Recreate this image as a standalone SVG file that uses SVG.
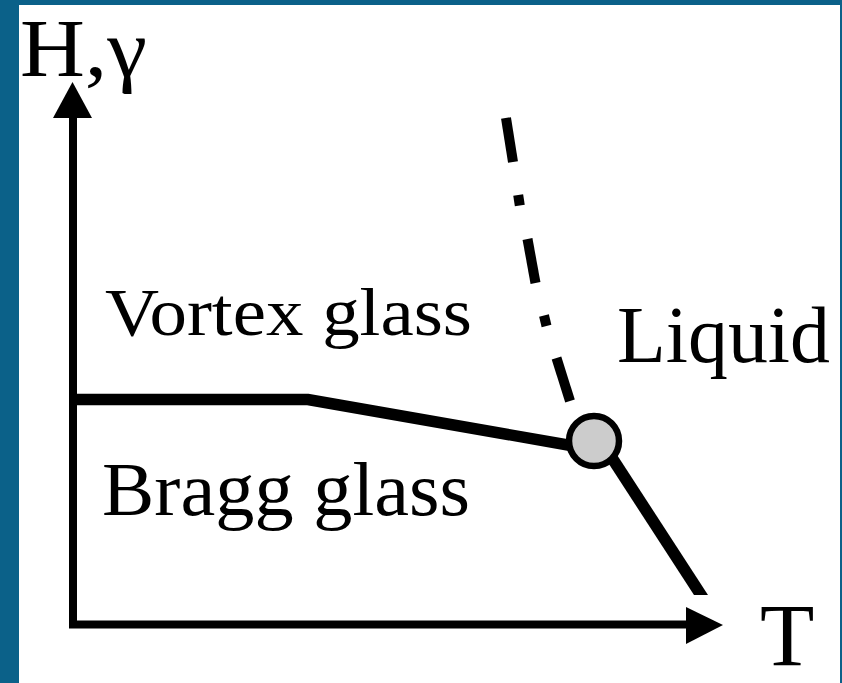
<svg xmlns="http://www.w3.org/2000/svg" width="842" height="683" viewBox="0 0 842 683">
  <style>
    .lbl { font-family: "Liberation Serif", "Times New Roman", serif; fill: #000; }
    .ax { stroke: #000; stroke-width: 8; fill: none; }
    .ph { stroke: #000; stroke-width: 11.5; fill: none; stroke-linecap: butt; }
    .dd { stroke: #000; stroke-width: 10; fill: none; stroke-linecap: butt; }
  </style>
  <rect x="0" y="0" width="842" height="683" fill="#0b6189"/>
  <rect x="19" y="5" width="821" height="678" fill="#ffffff"/>

  <g id="connectors">
    <!-- axes -->
    <path class="ax" d="M73 118 L73 624.5 L688 624.5"/>
    <polygon points="72.5,82 53,118 92,118" fill="#000"/>
    <polygon points="723,625 686,607 686,644" fill="#000"/>
    <!-- Bragg / vortex glass boundary -->
    <path class="ph" d="M77 399.5 L308 399.5 L585 448" stroke-linejoin="miter"/>
    <!-- melting line -->
    <polygon points="594,441 608,441 708,595 694,595" fill="#000"/>
    <!-- dash-dot line -->
    <line class="dd" x1="506" y1="118" x2="513" y2="162"/>
    <line class="dd" x1="518.2" y1="195" x2="519.8" y2="205.5"/>
    <line class="dd" x1="527.5" y1="239" x2="535.5" y2="283"/>
    <line class="dd" x1="544" y1="315.5" x2="546.5" y2="326"/>
    <line class="dd" x1="556.5" y1="358" x2="570" y2="401"/>
  </g>

  <g id="critical-point">
    <circle cx="594" cy="441" r="25" fill="#cccccc" stroke="#000" stroke-width="6.5"/>
  </g>

  <g id="axis-y-label">
    <text class="lbl" x="20" y="76" font-size="82" textLength="127" lengthAdjust="spacingAndGlyphs">H,γ</text>
  </g>
  <g id="axis-x-label">
    <text class="lbl" x="760" y="665" font-size="89">T</text>
  </g>
  <g id="vortex-glass">
    <text class="lbl" x="105" y="335" font-size="68" textLength="367" lengthAdjust="spacingAndGlyphs">Vortex glass</text>
  </g>
  <g id="liquid">
    <text class="lbl" x="617" y="362" font-size="80" textLength="213" lengthAdjust="spacingAndGlyphs">Liquid</text>
  </g>
  <g id="bragg-glass">
    <text class="lbl" x="102" y="515" font-size="76" textLength="368" lengthAdjust="spacingAndGlyphs">Bragg glass</text>
  </g>
</svg>
